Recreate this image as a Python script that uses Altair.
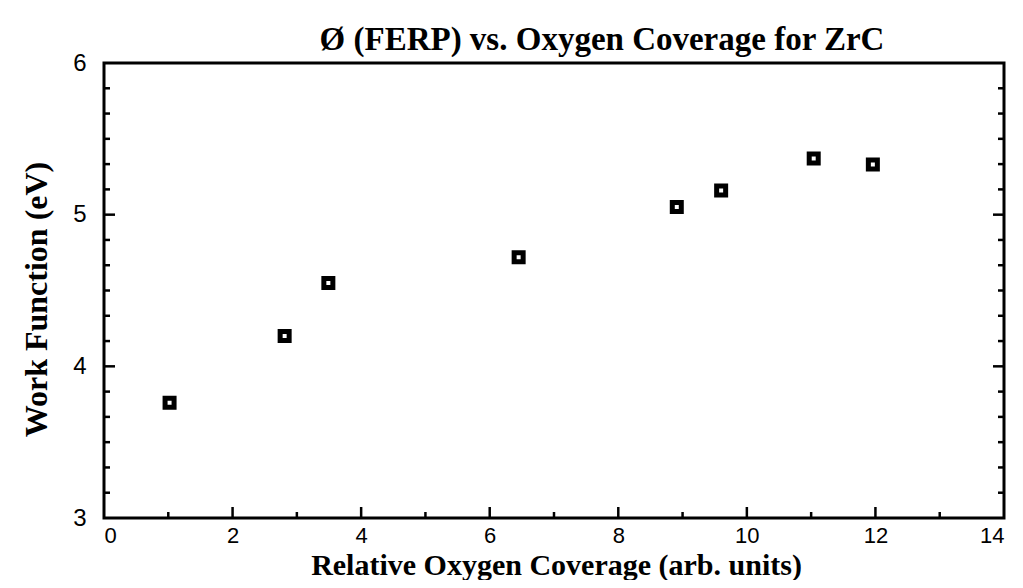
import altair as alt
import pandas as pd

# data
coverage = [1.02, 2.81, 3.49, 6.45, 8.91, 9.60, 11.04, 11.96]
work_function = [3.76, 4.20, 4.55, 4.72, 5.05, 5.16, 5.37, 5.33]

x_labels = [0, 2, 4, 6, 8, 10, 12, 14]
y_labels = [3, 4, 5, 6]
x_major_ticks = [2, 4, 6, 8, 10, 12]
x_minor_ticks = [1, 3, 5, 7, 9, 11, 13]
y_major_ticks = [4, 5]
y_minor_ticks = [3 + k / 6 for k in range(1, 18) if k % 6 != 0]

W, H = 900, 455
serif = "Liberation Serif"
sans = "Liberation Sans"

pts = pd.DataFrame({"x": coverage, "y": work_function})
xs = alt.Scale(domain=[0, 14], nice=False, zero=False)
ys = alt.Scale(domain=[3, 6], nice=False, zero=False)

points = alt.Chart(pts).mark_point(
    shape="square", filled=True, fill="white", stroke="black",
    strokeWidth=5, size=81, opacity=1
).encode(
    x=alt.X("x:Q", scale=xs, axis=alt.Axis(
        values=x_labels, format="d", ticks=False, tickSize=0, domain=False,
        grid=False, labelFont=sans, labelFontSize=22, labelColor="black",
        labelPadding=7, labelBaseline="top",
        title="Relative Oxygen Coverage (arb. units)", titleFont=serif,
        titleFontSize=30, titleFontWeight="bold", titleColor="black",
        titleX=452, titleY=56, titleBaseline="alphabetic", titleAnchor="middle")),
    y=alt.Y("y:Q", scale=ys, axis=alt.Axis(
        values=y_labels, format="d", ticks=False, tickSize=0, domain=False,
        grid=False, labelFont=sans, labelFontSize=24, labelColor="black",
        labelPadding=18,
        title="Work Function (eV)", titleFont=serif, titleFontSize=32,
        titleFontWeight="bold", titleColor="black", titleAngle=270,
        titleX=-68, titleY=236, titleBaseline="middle", titleAnchor="middle")),
)

def yrules(vals, x0, x1):
    return alt.Chart(pd.DataFrame({"y": vals})).mark_rule(
        color="black", strokeWidth=2.5
    ).encode(y=alt.Y("y:Q", scale=ys),
             x=alt.value(x0), x2=alt.value(x1))

def xrules(vals, y0, y1):
    return alt.Chart(pd.DataFrame({"x": vals})).mark_rule(
        color="black", strokeWidth=2.5
    ).encode(x=alt.X("x:Q", scale=xs),
             y=alt.value(y0), y2=alt.value(y1))

chart = alt.layer(
    points,
    yrules(y_major_ticks, 0, 11),
    yrules(y_minor_ticks, 0, 6),
    yrules(y_major_ticks, W, W - 11),
    yrules(y_minor_ticks, W, W - 6),
    xrules(x_major_ticks, H, H - 11),
    xrules(x_minor_ticks, H, H - 6),
).properties(
    width=W, height=H,
    background="white",
    title=alt.TitleParams(
        "Ø (FERP) vs. Oxygen Coverage for ZrC", font=serif, fontSize=33,
        fontWeight="bold", color="black", anchor="middle", frame="group",
        baseline="alphabetic", offset=-32, dx=48),
    autosize=alt.AutoSizeParams(type="none"),
    padding={"left": 96, "top": 55, "right": 11, "bottom": 62},
).configure_view(stroke="black", strokeWidth=3)

chart.save("out.html", embed_options={"renderer": "svg", "actions": False})
